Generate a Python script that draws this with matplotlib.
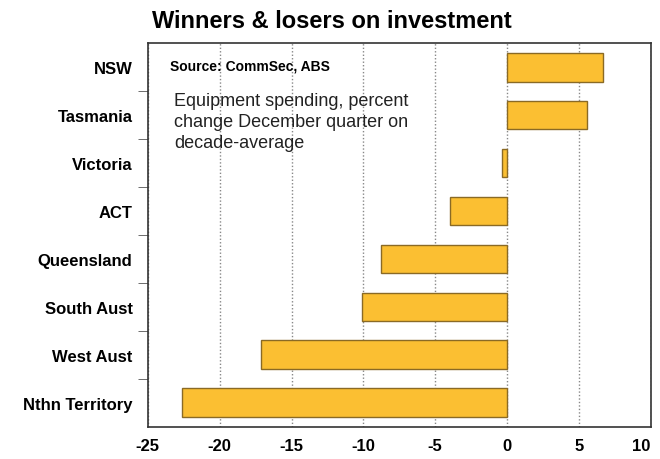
import matplotlib
matplotlib.use("Agg")
import matplotlib.pyplot as plt
import numpy as np

plt.rcParams["font.family"] = ["Liberation Sans", "DejaVu Sans"]

states = ["NSW", "Tasmania", "Victoria", "ACT", "Queensland",
          "South Aust", "West Aust", "Nthn Territory"]
change = [6.65, 5.55, -0.35, -3.95, -8.8, -10.1, -17.1, -22.6]
xticks = [-25, -20, -15, -10, -5, 0, 5, 10]

fig = plt.figure(figsize=(6.6, 4.6), dpi=100)
ax = fig.add_axes([0.224, 0.070, 0.762, 0.834])

ypos = np.arange(len(states))
ax.barh(ypos, change, height=0.6, color="#FBBF32", edgecolor="#8A6A25", linewidth=1.0, zorder=3)

ax.set_xlim(-25, 10)
ax.set_ylim(len(states) - 0.5, -0.5)
ax.set_xticks(xticks)
ax.set_xticklabels([str(v) for v in xticks], fontweight="bold", fontsize=12)
ax.tick_params(axis="x", length=0, pad=8)
ax.get_xticklabels()[-1].set_horizontalalignment("right")

ax.set_yticks(ypos)
ax.set_yticklabels(states, fontweight="bold", fontsize=12)
ax.tick_params(axis="y", which="major", length=0, pad=11)
ax.set_yticks(ypos[:-1] + 0.5, minor=True)
ax.tick_params(axis="y", which="minor", length=7, direction="out", color="#555555")

ax.grid(axis="x", linestyle=(0, (1, 1.5)), color="#888888", linewidth=1.0, zorder=0)
for s in ax.spines.values():
    s.set_color("#333333")
    s.set_linewidth(1.2)

fig.text(152 / 660, 1 - 22 / 460, "Winners & losers on investment",
         fontsize=17, fontweight="bold", ha="left", va="center")
ax.text(0.045, 0.96, "Source: CommSec, ABS", transform=ax.transAxes,
        fontsize=10, fontweight="bold", ha="left", va="top")
ax.text(0.052, 0.872, "Equipment spending, percent\nchange December quarter on\ndecade-average",
        transform=ax.transAxes, fontsize=13, ha="left", va="top", linespacing=1.3,
        color="#222222", zorder=4)

fig.savefig("out.png", dpi=100)
